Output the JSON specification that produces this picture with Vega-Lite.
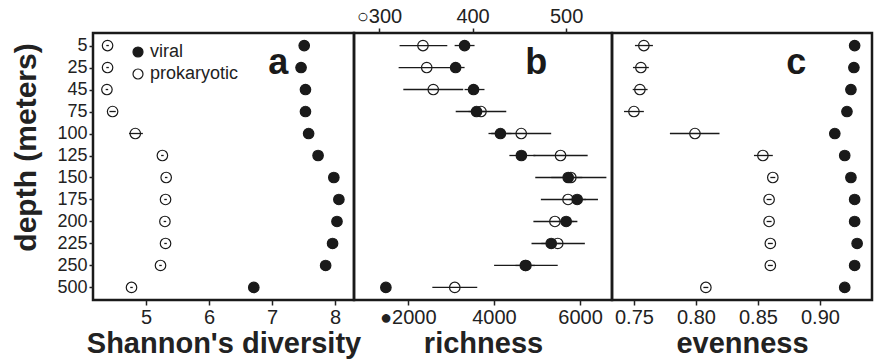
{
  "$schema": "https://vega.github.io/schema/vega-lite/v6.json",
  "padding": {"left": 10, "top": 4, "right": 0, "bottom": 0},
  "autosize": {"type": "pad"},
  "background": "white",
  "bounds": "flush",
  "spacing": 0,
  "config": {
    "font": "Liberation Sans",
    "view": {"stroke": "#1a1a1a", "strokeWidth": 2.5},
    "axis": {
      "labelFont": "Liberation Sans", "labelFontSize": 20, "labelColor": "#222",
      "tickColor": "#222", "tickSize": 5, "tickWidth": 1.5, "domain": false, "grid": false,
      "labelPadding": 2, "titleFont": "Liberation Sans", "titleFontSize": 29,
      "titleFontWeight": "bold", "titleColor": "#222", "titlePadding": 2
    },
    "legend": {"labelFont": "Liberation Sans"}
  },
  "datasets": {
    "d": [
      {"depth": "5", "type": "viral", "shannon": 7.51, "sh_lo": 7.49, "sh_hi": 7.53, "richness": 3318, "ri_lo": 3087, "ri_hi": 3549, "evenness": 0.928, "ev_lo": 0.926, "ev_hi": 0.930},
      {"depth": "25", "type": "viral", "shannon": 7.46, "sh_lo": 7.44, "sh_hi": 7.48, "richness": 3110, "ri_lo": 3017, "ri_hi": 3318, "evenness": 0.9274, "ev_lo": 0.9254, "ev_hi": 0.9294},
      {"depth": "45", "type": "viral", "shannon": 7.53, "sh_lo": 7.51, "sh_hi": 7.55, "richness": 3526, "ri_lo": 3318, "ri_hi": 3780, "evenness": 0.925, "ev_lo": 0.923, "ev_hi": 0.927},
      {"depth": "75", "type": "viral", "shannon": 7.53, "sh_lo": 7.51, "sh_hi": 7.55, "richness": 3595, "ri_lo": 3410, "ri_hi": 3803, "evenness": 0.9218, "ev_lo": 0.9198, "ev_hi": 0.9238},
      {"depth": "100", "type": "viral", "shannon": 7.58, "sh_lo": 7.56, "sh_hi": 7.60, "richness": 4150, "ri_lo": 3873, "ri_hi": 4405, "evenness": 0.912, "ev_lo": 0.908, "ev_hi": 0.916},
      {"depth": "125", "type": "viral", "shannon": 7.73, "sh_lo": 7.71, "sh_hi": 7.75, "richness": 4636, "ri_lo": 4358, "ri_hi": 4960, "evenness": 0.920, "ev_lo": 0.918, "ev_hi": 0.922},
      {"depth": "150", "type": "viral", "shannon": 7.98, "sh_lo": 7.96, "sh_hi": 8.00, "richness": 5723, "ri_lo": 5330, "ri_hi": 6050, "evenness": 0.925, "ev_lo": 0.923, "ev_hi": 0.927},
      {"depth": "175", "type": "viral", "shannon": 8.06, "sh_lo": 8.04, "sh_hi": 8.08, "richness": 5931, "ri_lo": 5746, "ri_hi": 6139, "evenness": 0.928, "ev_lo": 0.926, "ev_hi": 0.930},
      {"depth": "200", "type": "viral", "shannon": 8.03, "sh_lo": 8.01, "sh_hi": 8.05, "richness": 5676, "ri_lo": 5500, "ri_hi": 5850, "evenness": 0.928, "ev_lo": 0.926, "ev_hi": 0.930},
      {"depth": "225", "type": "viral", "shannon": 7.96, "sh_lo": 7.94, "sh_hi": 7.98, "richness": 5329, "ri_lo": 5100, "ri_hi": 5550, "evenness": 0.930, "ev_lo": 0.928, "ev_hi": 0.932},
      {"depth": "250", "type": "viral", "shannon": 7.85, "sh_lo": 7.83, "sh_hi": 7.87, "richness": 4728, "ri_lo": 4500, "ri_hi": 4950, "evenness": 0.928, "ev_lo": 0.926, "ev_hi": 0.930},
      {"depth": "500", "type": "viral", "shannon": 6.71, "sh_lo": 6.69, "sh_hi": 6.73, "richness": 1491, "ri_lo": 1450, "ri_hi": 1530, "evenness": 0.920, "ev_lo": 0.918, "ev_hi": 0.922},
      {"depth": "5", "type": "prokaryotic", "shannon": 4.39, "sh_lo": 4.37, "sh_hi": 4.41, "richness": 347, "ri_lo": 322, "ri_hi": 373, "evenness": 0.758, "ev_lo": 0.7508, "ev_hi": 0.7653},
      {"depth": "25", "type": "prokaryotic", "shannon": 4.39, "sh_lo": 4.37, "sh_hi": 4.41, "richness": 351, "ri_lo": 321, "ri_hi": 385, "evenness": 0.7556, "ev_lo": 0.7492, "ev_hi": 0.762},
      {"depth": "45", "type": "prokaryotic", "shannon": 4.38, "sh_lo": 4.36, "sh_hi": 4.40, "richness": 358, "ri_lo": 326, "ri_hi": 390, "evenness": 0.7548, "ev_lo": 0.749, "ev_hi": 0.761},
      {"depth": "75", "type": "prokaryotic", "shannon": 4.47, "sh_lo": 4.42, "sh_hi": 4.52, "richness": 409, "ri_lo": 382, "ri_hi": 436, "evenness": 0.750, "ev_lo": 0.742, "ev_hi": 0.758},
      {"depth": "100", "type": "prokaryotic", "shannon": 4.83, "sh_lo": 4.73, "sh_hi": 4.95, "richness": 452, "ri_lo": 420, "ri_hi": 484, "evenness": 0.7992, "ev_lo": 0.779, "ev_hi": 0.819},
      {"depth": "125", "type": "prokaryotic", "shannon": 5.26, "sh_lo": 5.24, "sh_hi": 5.28, "richness": 494, "ri_lo": 465, "ri_hi": 523, "evenness": 0.854, "ev_lo": 0.8468, "ev_hi": 0.862},
      {"depth": "150", "type": "prokaryotic", "shannon": 5.32, "sh_lo": 5.30, "sh_hi": 5.34, "richness": 505, "ri_lo": 467, "ri_hi": 543, "evenness": 0.862, "ev_lo": 0.860, "ev_hi": 0.864},
      {"depth": "175", "type": "prokaryotic", "shannon": 5.31, "sh_lo": 5.29, "sh_hi": 5.33, "richness": 502, "ri_lo": 473, "ri_hi": 534, "evenness": 0.859, "ev_lo": 0.857, "ev_hi": 0.861},
      {"depth": "200", "type": "prokaryotic", "shannon": 5.30, "sh_lo": 5.28, "sh_hi": 5.32, "richness": 488, "ri_lo": 465, "ri_hi": 512, "evenness": 0.859, "ev_lo": 0.857, "ev_hi": 0.861},
      {"depth": "225", "type": "prokaryotic", "shannon": 5.31, "sh_lo": 5.29, "sh_hi": 5.33, "richness": 491, "ri_lo": 463, "ri_hi": 520, "evenness": 0.860, "ev_lo": 0.858, "ev_hi": 0.862},
      {"depth": "250", "type": "prokaryotic", "shannon": 5.23, "sh_lo": 5.21, "sh_hi": 5.25, "richness": 457, "ri_lo": 423, "ri_hi": 491, "evenness": 0.860, "ev_lo": 0.858, "ev_hi": 0.862},
      {"depth": "500", "type": "prokaryotic", "shannon": 4.77, "sh_lo": 4.75, "sh_hi": 4.79, "richness": 381, "ri_lo": 357, "ri_hi": 405, "evenness": 0.808, "ev_lo": 0.806, "ev_hi": 0.810}
    ]
  },
  "data": {"name": "d"},
  "hconcat": [
    {
      "width": 261, "height": 267,
      "layer": [
        {
          "mark": {"type": "rule", "color": "#1a1a1a", "strokeWidth": 1.3},
          "encoding": {
            "x": {"field": "sh_lo", "type": "quantitative", "scale": {"domain": [4.159, 8.30], "nice": false, "zero": false}, "axis": {"values": [5, 6, 7, 8], "format": "d", "title": "Shannon's diversity"}},
            "x2": {"field": "sh_hi"},
            "y": {"field": "depth", "type": "ordinal", "scale": {"type": "point", "domain": ["5","25","45","75","100","125","150","175","200","225","250","500"], "padding": 0.57}, "axis": {"title": "depth (meters)", "titleFontSize": 30, "labelFontSize": 18, "tickSize": 4, "titlePadding": 15, "titleY": 114}}
          }
        },
        {
          "mark": {"type": "point", "shape": "circle", "filled": true, "size": 110, "stroke": "#1a1a1a", "strokeWidth": 1.2, "opacity": 1},
          "encoding": {
            "x": {"field": "shannon", "type": "quantitative", "scale": {"domain": [4.159, 8.30], "nice": false, "zero": false}, "axis": {"values": [5, 6, 7, 8], "format": "d", "title": "Shannon's diversity"}},
            "y": {"field": "depth", "type": "ordinal", "scale": {"type": "point", "domain": ["5","25","45","75","100","125","150","175","200","225","250","500"], "padding": 0.57}, "axis": {"title": "depth (meters)", "titleFontSize": 30, "labelFontSize": 18, "tickSize": 4, "titlePadding": 15, "titleY": 114}},
            "fill": {"field": "type", "type": "nominal", "scale": {"domain": ["viral", "prokaryotic"], "range": ["#1a1a1a", "rgba(255,255,255,0)"]},
              "legend": {"title": null, "orient": "none", "legendX": 36, "legendY": 10, "labelFontSize": 18, "labelColor": "#222", "symbolSize": 100, "symbolType": "circle", "symbolStrokeColor": "#1a1a1a", "symbolStrokeWidth": 1.2, "rowPadding": 4, "labelOffset": 3, "padding": 0}}
          }
        },
        {
          "data": {"values": [{"label": "a"}]},
          "mark": {"type": "text", "fontSize": 36, "fontWeight": "bold", "baseline": "alphabetic", "align": "center", "dy": 6, "color": "#1a1a1a", "font": "Liberation Sans"},
          "encoding": {"x": {"datum": 7.1, "type": "quantitative"}, "y": {"datum": "25", "type": "ordinal"}, "text": {"field": "label"}}
        }
      ]
    },
    {
      "width": 258, "height": 267,
      "layer": [
        {
          "layer": [
            {
              "transform": [{"filter": "datum.type === 'prokaryotic'"}],
              "mark": {"type": "rule", "color": "#1a1a1a", "strokeWidth": 1.3},
              "encoding": {
                "x": {"field": "ri_lo", "type": "quantitative", "scale": {"domain": [273.3, 549], "nice": false, "zero": false}, "axis": {"orient": "top", "values": [300, 400, 500], "title": null, "labelExpr": "datum.value == 300 ? '○' + datum.label + '\u00a0\u00a0' : datum.label"}},
                "x2": {"field": "ri_hi"},
                "y": {"field": "depth", "type": "ordinal", "scale": {"type": "point", "domain": ["5","25","45","75","100","125","150","175","200","225","250","500"], "padding": 0.57}, "axis": null}
              }
            },
            {
              "transform": [{"filter": "datum.type === 'prokaryotic'"}],
              "mark": {"type": "point", "shape": "circle", "filled": true, "size": 110, "stroke": "#1a1a1a", "strokeWidth": 1.2, "opacity": 1},
              "encoding": {
                "x": {"field": "richness", "type": "quantitative", "scale": {"domain": [273.3, 549], "nice": false, "zero": false}, "axis": {"orient": "top", "values": [300, 400, 500], "title": null, "labelExpr": "datum.value == 300 ? '○' + datum.label + '\u00a0\u00a0' : datum.label"}},
                "y": {"field": "depth", "type": "ordinal", "scale": {"type": "point", "domain": ["5","25","45","75","100","125","150","175","200","225","250","500"], "padding": 0.57}, "axis": null},
                "fill": {"field": "type", "type": "nominal", "scale": {"domain": ["viral", "prokaryotic"], "range": ["#1a1a1a", "rgba(255,255,255,0)"]}, "legend": null}
              }
            }
          ]
        },
        {
          "layer": [
            {
              "transform": [{"filter": "datum.type === 'viral'"}],
              "mark": {"type": "rule", "color": "#1a1a1a", "strokeWidth": 1.3},
              "encoding": {
                "x": {"field": "ri_lo", "type": "quantitative", "scale": {"domain": [751, 6740], "nice": false, "zero": false}, "axis": {"orient": "bottom", "values": [2000, 4000, 6000], "format": "d", "title": "richness", "labelExpr": "datum.value == 2000 ? '●' + datum.label + '\u00a0\u00a0' : datum.label"}},
                "x2": {"field": "ri_hi"},
                "y": {"field": "depth", "type": "ordinal", "scale": {"type": "point", "domain": ["5","25","45","75","100","125","150","175","200","225","250","500"], "padding": 0.57}, "axis": null}
              }
            },
            {
              "transform": [{"filter": "datum.type === 'viral'"}],
              "mark": {"type": "point", "shape": "circle", "filled": true, "size": 110, "stroke": "#1a1a1a", "strokeWidth": 1.2, "opacity": 1},
              "encoding": {
                "x": {"field": "richness", "type": "quantitative", "scale": {"domain": [751, 6740], "nice": false, "zero": false}, "axis": {"orient": "bottom", "values": [2000, 4000, 6000], "format": "d", "title": "richness", "labelExpr": "datum.value == 2000 ? '●' + datum.label + '\u00a0\u00a0' : datum.label"}},
                "y": {"field": "depth", "type": "ordinal", "scale": {"type": "point", "domain": ["5","25","45","75","100","125","150","175","200","225","250","500"], "padding": 0.57}, "axis": null},
                "fill": {"field": "type", "type": "nominal", "scale": {"domain": ["viral", "prokaryotic"], "range": ["#1a1a1a", "rgba(255,255,255,0)"]}, "legend": null}
              }
            },
            {
              "data": {"values": [{"label": "b"}]},
              "mark": {"type": "text", "fontSize": 36, "fontWeight": "bold", "baseline": "alphabetic", "align": "center", "dy": 6, "color": "#1a1a1a", "font": "Liberation Sans"},
              "encoding": {"x": {"datum": 4983, "type": "quantitative"}, "y": {"datum": "25", "type": "ordinal"}, "text": {"field": "label"}}
            }
          ]
        }
      ],
      "resolve": {"scale": {"x": "independent"}, "axis": {"x": "independent"}}
    },
    {
      "width": 260, "height": 267,
      "layer": [
        {
          "mark": {"type": "rule", "color": "#1a1a1a", "strokeWidth": 1.3},
          "encoding": {
            "x": {"field": "ev_lo", "type": "quantitative", "scale": {"domain": [0.7323, 0.942], "nice": false, "zero": false}, "axis": {"values": [0.75, 0.8, 0.85, 0.9], "format": ".2f", "title": "evenness"}},
            "x2": {"field": "ev_hi"},
            "y": {"field": "depth", "type": "ordinal", "scale": {"type": "point", "domain": ["5","25","45","75","100","125","150","175","200","225","250","500"], "padding": 0.57}, "axis": null}
          }
        },
        {
          "mark": {"type": "point", "shape": "circle", "filled": true, "size": 110, "stroke": "#1a1a1a", "strokeWidth": 1.2, "opacity": 1},
          "encoding": {
            "x": {"field": "evenness", "type": "quantitative", "scale": {"domain": [0.7323, 0.942], "nice": false, "zero": false}, "axis": {"values": [0.75, 0.8, 0.85, 0.9], "format": ".2f", "title": "evenness"}},
            "y": {"field": "depth", "type": "ordinal", "scale": {"type": "point", "domain": ["5","25","45","75","100","125","150","175","200","225","250","500"], "padding": 0.57}, "axis": null},
            "fill": {"field": "type", "type": "nominal", "scale": {"domain": ["viral", "prokaryotic"], "range": ["#1a1a1a", "rgba(255,255,255,0)"]}, "legend": null}
          }
        },
        {
          "data": {"values": [{"label": "c"}]},
          "mark": {"type": "text", "fontSize": 36, "fontWeight": "bold", "baseline": "alphabetic", "align": "center", "dy": 6, "color": "#1a1a1a", "font": "Liberation Sans"},
          "encoding": {"x": {"datum": 0.881, "type": "quantitative"}, "y": {"datum": "25", "type": "ordinal"}, "text": {"field": "label"}}
        }
      ]
    }
  ],
  "resolve": {"scale": {"fill": "independent"}, "legend": {"fill": "independent"}}
}
